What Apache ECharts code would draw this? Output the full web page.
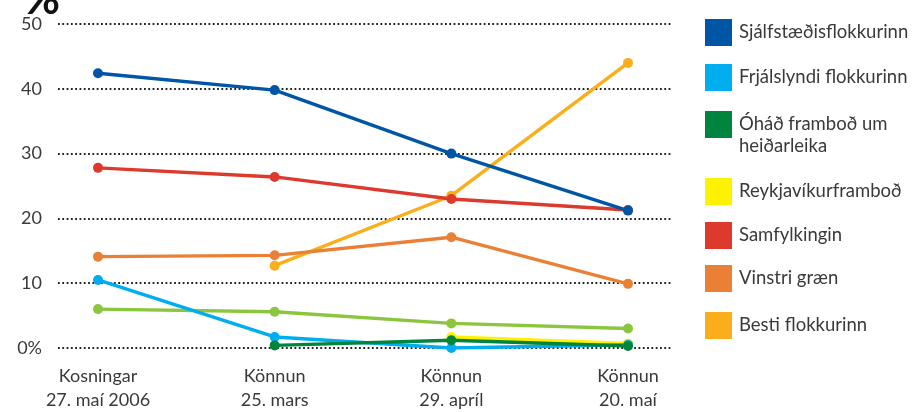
<!DOCTYPE html>
<html>
<head>
<meta charset="utf-8">
<script src="https://cdn.jsdelivr.net/npm/echarts@6/dist/echarts.min.js"></script>
<style>
  html, body { margin: 0; padding: 0; background: #fff; }
  #chart { width: 914px; height: 412px; }
</style>
</head>
<body>
<div id="chart"></div>
<script>
// gögn
var categories = ['Kosningar\n27. maí 2006', 'Könnun\n25. mars', 'Könnun\n29. apríl', 'Könnun\n20. maí'];
var yTicks = [0, 10, 20, 30, 40, 50];

var sjalfstaedis = [42.4, 39.8, 30.0, 21.2];
var frjalslyndi = [10.5, 1.7, 0.0, 0.5];
var ohad = [null, 0.4, 1.2, 0.3];
var reykjavikur = [null, null, 1.7, 0.7];
var samfylkingin = [27.8, 26.4, 23.0, 21.3];
var vinstri = [14.1, 14.3, 17.1, 9.9];
var besti = [null, 12.7, 23.5, 44.0];
var framsokn = [6.0, 5.6, 3.8, 3.0];

var font = 'Lato';
var textColor = '#3a3a3a';

var myChart = echarts.init(document.getElementById('chart'));

function line(name, data, color) {
  return {
    name: name,
    type: 'line',
    xAxisIndex: 1,
    yAxisIndex: 1,
    data: data,
    symbol: 'circle',
    symbolSize: 10,
    showSymbol: true,
    connectNulls: false,
    animation: false,
    itemStyle: { color: color },
    lineStyle: { color: color, width: 3.4 }
  };
}

// skýringar, ein fyrir hvern flokk
var legendNames = ['Sjálfstæðisflokkurinn', 'Frjálslyndi flokkurinn', 'Óháð framboð um heiðarleika',
  'Reykjavíkurframboð', 'Samfylkingin', 'Vinstri græn', 'Besti flokkurinn'];
var legendTops = [19, 64, 91.5, 178, 222, 265, 312];
var legends = legendNames.map(function (n, i) {
  return {
    left: 705,
    top: legendTops[i],
    padding: 0,
    orient: 'vertical',
    icon: 'rect',
    itemWidth: 27,
    itemHeight: 27,
    selectedMode: false,
    data: [n],
    formatter: function (name) {
      return name === 'Óháð framboð um heiðarleika' ? '\nÓháð framboð um\nheiðarleika' : name;
    },
    textStyle: { fontFamily: font, fontSize: 18.5, color: textColor, lineHeight: 22, padding: [0, 0, 0, 2] }
  };
});

var option = {
  backgroundColor: '#fff',
  title: {
    text: '%',
    left: 24,
    top: -22,
    padding: 0,
    textStyle: { fontFamily: font, fontSize: 44, fontWeight: 'bold', color: '#111' }
  },
  legend: legends,
  grid: [
    { left: 58, right: 242, top: 24, bottom: 64 },
    { left: 98, right: 286, top: 24, bottom: 64 }
  ],
  xAxis: [
    {
      gridIndex: 0, type: 'value', min: 0, max: 1,
      axisLine: { show: false }, axisTick: { show: false }, axisLabel: { show: false }, splitLine: { show: false }
    },
    {
      gridIndex: 1, type: 'category', data: categories, boundaryGap: false,
      axisLine: { show: false }, axisTick: { show: false }, splitLine: { show: false },
      axisLabel: { fontFamily: font, fontSize: 18, color: textColor, lineHeight: 24, margin: 16, interval: 0 }
    }
  ],
  yAxis: [
    {
      gridIndex: 0, type: 'value', min: yTicks[0], max: yTicks[yTicks.length - 1], interval: 10,
      axisLine: { show: false }, axisTick: { show: false },
      axisLabel: {
        fontFamily: font, fontSize: 18, color: textColor, margin: 16,
        formatter: function (v) { return v === 0 ? '0%' : String(v); }
      },
      splitLine: { show: true, lineStyle: { color: '#222', width: 1.8, type: [1.8, 2.5] } }
    },
    {
      gridIndex: 1, type: 'value', min: yTicks[0], max: yTicks[yTicks.length - 1], interval: 10,
      axisLine: { show: false }, axisTick: { show: false }, axisLabel: { show: false }, splitLine: { show: false }
    }
  ],
  series: [
    line('Framsóknarflokkurinn', framsokn, '#8cc63f'),
    line('Besti flokkurinn', besti, '#fbae1b'),
    line('Vinstri græn', vinstri, '#e98035'),
    line('Samfylkingin', samfylkingin, '#dc3a2c'),
    line('Reykjavíkurframboð', reykjavikur, '#fff200'),
    line('Frjálslyndi flokkurinn', frjalslyndi, '#00aeef'),
    line('Óháð framboð um heiðarleika', ohad, '#00843e'),
    line('Sjálfstæðisflokkurinn', sjalfstaedis, '#0055a5')
  ]
};

myChart.setOption(option);
</script>
</body>
</html>
